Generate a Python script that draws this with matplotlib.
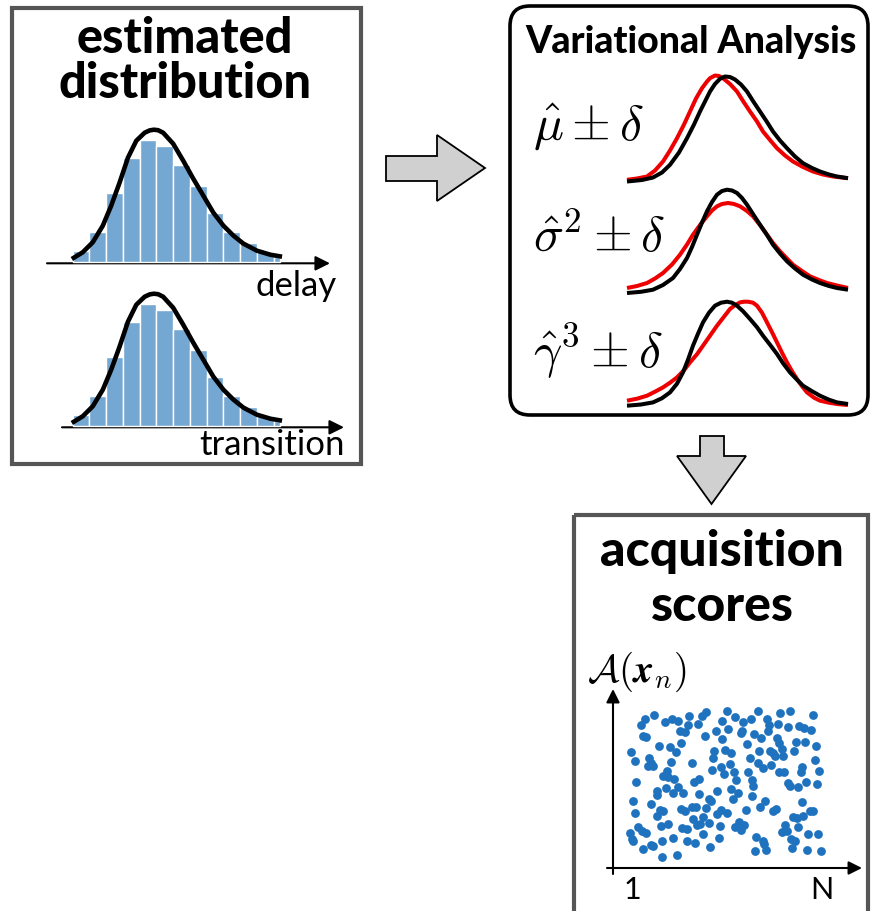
import numpy as np
import matplotlib
matplotlib.use("Agg")
import matplotlib.pyplot as plt
from matplotlib.patches import Polygon, FancyBboxPatch, Rectangle

plt.rcParams["mathtext.fontset"] = "cm"

# ---- data ----
# histogram (same shape for delay and transition)
bin_left = [0, 1, 2, 3, 4, 5, 6, 7, 8, 9, 10, 11, 12]
bin_width = [1, 1, 1, 1, 1, 1, 1, 1, 1, 1, 1, 1, 0.4]
delay_counts = [10.4, 29.4, 68.7, 103.7, 121.7, 116, 96.7, 76, 48.7, 29.4, 18.7, 9.4, 4.4]
transition_counts = [10.4, 29.4, 68.7, 103.7, 121.7, 116, 96.7, 76, 48.7, 29.4, 18.7, 9.4, 4.4]

fit_x = [-0.05, 0.6, 1.2, 1.8, 2.3, 2.8, 3.3, 3.8, 4.3, 4.6, 4.85, 5.1, 5.4, 6.0, 6.6,
         7.2, 7.8, 8.4, 9.0, 9.6, 10.2, 11.0, 11.8, 12.5]
fit_y = [2.7, 9.4, 19.4, 36, 56, 79, 104, 121, 129, 131.3, 132, 131.5, 129, 118, 101,
         83, 66, 49, 36, 26, 18, 11, 7, 5]

# variational analysis curves (x along curve, height)
mu_black_x = [0, 15, 26, 35, 43, 52, 60, 67, 73, 78, 83, 88, 93, 98, 103, 108, 114, 120,
              126, 133, 140, 146, 153, 160, 168, 176, 185, 193, 202, 210, 221]
mu_black_y = [0, 1.5, 4, 9, 16.7, 29, 43.3, 57, 70, 80, 90, 97.5, 102.7, 105, 104.5, 102,
              97, 90, 80.5, 70, 59.5, 50, 41, 33.3, 25, 18.3, 13.5, 10, 7, 5, 3.3]
mu_red_x = [0, 10, 20, 28, 36, 43, 50, 57, 63, 69, 75, 80, 83, 88, 92, 96, 103, 110, 116,
            123, 130, 136, 143, 150, 158, 166, 176, 186, 196, 206, 221]
mu_red_y = [1.7, 3, 5, 11, 20, 31, 43.3, 57, 70, 83, 93.3, 100, 103.3, 106, 105.5, 103.3,
            97.5, 90, 80.5, 70, 60, 50, 41.5, 33.3, 26, 20, 14.5, 10, 7, 5, 3.3]

sig_black_x = [0, 14, 26, 36, 46, 53, 60, 65, 70, 75, 80, 85, 90, 95, 100, 105, 110, 115,
               120, 126, 133, 140, 146, 153, 160, 168, 176, 185, 193, 202, 210, 221]
sig_black_y = [0, 1.2, 3.3, 8, 15, 24, 35, 46, 58.3, 70.5, 81.7, 91, 98.3, 102, 103.3, 102.5,
               100, 95, 88.3, 79, 68.3, 58, 48.3, 39.5, 31.7, 24.5, 18.3, 13.5, 10, 7, 5, 3.3]
sig_red_x = [0, 10, 20, 28, 36, 45, 53, 60, 66, 73, 80, 85, 90, 95, 101, 107, 113, 120, 126,
             133, 140, 146, 153, 160, 166, 175, 183, 192, 200, 210, 221]
sig_red_y = [5, 7, 10, 14.5, 20, 28.5, 38.3, 48.5, 58.3, 68, 76.7, 82.5, 86.7, 89, 90, 89,
             86.7, 82, 76.7, 68, 58.3, 50, 41.7, 34.5, 28.3, 22, 16.7, 13, 10, 7.5, 5]

gam_black_x = [0, 14, 26, 35, 43, 50, 56, 61, 66, 71, 76, 82, 88, 94, 100, 105, 110, 116,
               123, 130, 136, 143, 150, 156, 163, 170, 176, 185, 193, 202, 210, 221]
gam_black_y = [0, 1.2, 3.3, 7.5, 13.3, 22, 33.3, 46, 60, 72, 83.3, 93, 100, 103, 104, 103,
               100, 94.5, 86.7, 78.5, 70, 61, 51.7, 42.5, 33.3, 26, 20, 14.5, 10, 6, 3.3, 1.7]
gam_red_x = [0, 10, 20, 28, 36, 43, 50, 57, 63, 70, 76, 83, 90, 97, 103, 108, 113, 117,
             121, 126, 130, 135, 140, 145, 150, 155, 160, 165, 170, 175, 180, 187, 193, 202,
             210, 221]
gam_red_y = [5, 7, 10, 14, 18.3, 23, 28.3, 35.5, 43.3, 51.5, 60, 70, 80, 89, 96.7, 100.5,
             103.3, 104, 104, 103, 100, 93, 83.3, 73.5, 63.3, 53, 43.3, 34.5, 26.7, 19.5,
             13.3, 8, 5, 3, 1.7, 0.7]

# acquisition scores (index, score)
score_idx = [34.3, 25, 21, 45, 51.7, 57.7, 69.3, 68.3, 77.7, 81.7, 85.7, 60, 65, 23.3, 26,
             84.7, 96, 102.3, 101.7, 39.3, 50, 55.7, 60.7, 10.7, 14.7, 29.3, 28.3, 32.7, 31,
             51, 71.7, 94, 93.3, 101, 92.3, 104, 46.7, 43.3, 48.3, 54, 16, 74, 79.3, 58.3,
             46, 53.3, 63.3, 36.7, 37.3, 78.7, 97, 13.3, 30.7, 40, 36.7, 42.7, 15, 61, 65,
             71.7, 76, 88.7, 90.7, 86, 96.7, 101, 73.3, 83.3, 80, 77.3, 88.7, 100, 18.3, 21.7,
             26, 10, 11.7, 12.7, 40.7, 48.3, 61.7, 66.7, 82.7, 53.3, 41.7, 66.7, 31, 33.3,
             22.7, 75, 90, 99, 42.3, 56.7,
             107.3, 138.3, 160, 170, 193.3, 115, 123.3, 130.7, 146.7, 149.3, 158.3, 168.3,
             179.3, 184, 190.7, 108.3, 121.7, 120.7, 134.3, 147.7, 140.7, 156.7, 159.3, 161.7,
             176, 185, 196, 127.3, 105, 111, 139.3, 150, 153.3, 155, 163.3, 174, 195.3, 130,
             137.7, 142.7, 150.7, 110, 114, 128.3, 159.3, 164.3, 181.7, 180.7, 199.3, 116,
             131.7, 133.3, 168.3, 170, 177.7, 186, 197.3, 111, 117.7, 132.3, 112.7, 145, 140,
             156, 153.3, 182.3, 106.7, 126, 190, 192.7, 172.7, 176.7, 183.3, 165, 119.3, 124,
             115, 120.7, 178.3, 161.7, 166.7, 188.3, 197.7, 136, 143.3, 144.3, 146, 170.7,
             175, 171.7, 187.3, 200.7, 135]
score_val = [154, 150, 144.3, 146.7, 150, 148.3, 152.7, 144.3, 145, 153.3, 156.7, 138.3, 136.7,
             133.3, 132.3, 133.3, 138.3, 130, 148.3, 123, 122.3, 117.3, 126, 116.7, 108.3, 111,
             103.3, 103, 105.7, 106.7, 105.7, 118.3, 111, 101.7, 99.3, 95, 98.3, 93.3, 92.3, 90,
             87.3, 86.7, 90, 82.3, 80.7, 75.7, 75.7, 77.7, 74.3, 75, 77.7, 68.3, 65, 59, 53.3,
             57.7, 56, 60, 57.7, 61.7, 62.3, 70, 67.7, 61, 55, 59, 50, 52.3, 45, 44.3, 46, 43,
             41.7, 38.3, 35.7, 36, 30, 28.3, 43.3, 45, 41, 40, 35, 31, 28.3, 28.3, 24.3, 22.7,
             20, 25.7, 21.7, 31, 12.3, 14.3,
             157.7, 158.3, 156, 157.7, 154.3, 151.7, 146.7, 150, 150, 144.3, 145, 142.3, 143.3,
             141, 139, 140, 138.3, 135.7, 135, 138.3, 130.7, 130.7, 125.7, 120, 127.3, 126.7,
             123.3, 125, 119, 115.7, 118.3, 118.3, 115.7, 113.3, 113.3, 118.3, 109, 111, 105.7,
             100.7, 104, 105, 96.7, 97.3, 96.7, 97.3, 101.7, 96.7, 98.3, 89, 89, 83.3, 85.7,
             83.3, 81.7, 86.7, 85, 80, 75.7, 73, 70, 67.7, 61.7, 60, 57.7, 66.7, 55.7, 59.3,
             58.3, 58.3, 51.7, 50.7, 53.3, 44.3, 46.7, 44, 41.7, 39, 41.7, 36.7, 37.7, 35, 35,
             31.7, 27.7, 25, 19.3, 30, 28.3, 21, 19.3, 18.3, 17.7]

W, H = 871, 912
fig = plt.figure(figsize=(W / 100, H / 100), dpi=100)

bg = fig.add_axes([0, 0, 1, 1])
bg.set_xlim(0, W)
bg.set_ylim(H, 0)
bg.axis("off")


def inset(x0, y0, x1, y1):
    a = fig.add_axes([x0 / W, 1 - y1 / H, (x1 - x0) / W, (y1 - y0) / H])
    a.set_facecolor("none")
    a.axis("off")
    return a


title_font = dict(family=["Lato", "DejaVu Sans"], weight="black", color="black")
label_font = dict(family=["Lato", "DejaVu Sans"], color="black")

# ---- left box: estimated distribution ----
bg.add_patch(Rectangle((12, 8.5), 348.5, 456.5, fill=False, ec="#555555", lw=3))
bg.text(185, 53, "estimated", ha="center", va="baseline", fontsize=35, **title_font)
bg.text(185, 98, "distribution", ha="center", va="baseline", fontsize=35, **title_font)

for counts, y_base, arr_x0, arr_x1, name, name_x, name_y in [
    (delay_counts, 262.7, 47, 330, "delay", 337, 296),
    (transition_counts, 426.7, 62, 344, "transition", 345, 455),
]:
    ah = inset(40, y_base - 142.7, 340, y_base + 7.3)
    ah.bar(bin_left, counts, width=bin_width, align="edge", color="#75a7d3",
           edgecolor="white", lw=1.0)
    ah.plot(fit_x, fit_y, color="black", lw=3.3, solid_capstyle="butt", solid_joinstyle="round")
    ah.set_xlim(-1.95, 15.96)
    ah.set_ylim(-7.3, 142.7)
    bg.annotate("", xy=(arr_x1, y_base + 1.6), xytext=(arr_x0, y_base + 1.6),
                arrowprops=dict(arrowstyle="-|>", lw=1.5, color="black", mutation_scale=22,
                                shrinkA=0, shrinkB=0))
    bg.text(name_x, name_y, name, ha="right", va="baseline", fontsize=25, **label_font)

# ---- arrows between panels ----
bg.add_patch(Polygon([(386, 157), (437, 157), (437, 136), (485, 169), (437, 202),
                      (437, 182), (386, 182)], closed=True, fc="#d0d0d0", ec="black", lw=1.3))
bg.add_patch(Polygon([(700, 437), (724, 437), (724, 457), (746, 457), (711.5, 505),
                      (677, 457), (700, 457)], closed=True, fc="#d0d0d0", ec="black", lw=1.3))

# ---- variational analysis box ----
bg.add_patch(FancyBboxPatch((510, 7), 358, 409, boxstyle="round,pad=0,rounding_size=20",
                            fill=False, ec="black", lw=2.6))
bg.text(691, 53, "Variational Analysis", ha="center", va="baseline", fontsize=27, **title_font)

rows = [
    (r"$\hat{\mu} \pm \delta$", 182.5, mu_black_x, mu_black_y, mu_red_x, mu_red_y),
    (r"$\hat{\sigma}^2 \pm \delta$", 294, sig_black_x, sig_black_y, sig_red_x, sig_red_y),
    (r"$\hat{\gamma}^3 \pm \delta$", 406.7, gam_black_x, gam_black_y, gam_red_x, gam_red_y),
]
for lab, y_base, bx, by, rx, ry in rows:
    av = inset(620, y_base - 120, 860, y_base + 5)
    av.plot(rx, ry, color="#ee0000", lw=2.9, solid_capstyle="butt", solid_joinstyle="round")
    av.plot(bx, by, color="black", lw=2.9, solid_capstyle="butt", solid_joinstyle="round")
    av.set_xlim(-7, 233)
    av.set_ylim(-5, 120)
    bg.text(533, y_base - 56, lab, ha="left", va="center", fontsize=36)

# ---- acquisition scores box ----
bg.add_patch(Rectangle((574, 516), 294, 420, fill=False, ec="#555555", lw=3, clip_on=False))
bg.text(722, 566, "acquisition", ha="center", va="baseline", fontsize=36, **title_font)
bg.text(722, 621, "scores", ha="center", va="baseline", fontsize=36, **title_font)

asc = inset(600, 680, 870, 880)
asc.scatter(score_idx, score_val, s=40, color="#1f72be", linewidths=0)
asc.set_xlim(-20, 250)
asc.set_ylim(-10, 190)

bg.annotate("", xy=(613, 690), xytext=(613, 875),
            arrowprops=dict(arrowstyle="-|>", lw=1.5, color="black", mutation_scale=20,
                            shrinkA=0, shrinkB=0))
bg.annotate("", xy=(862, 869), xytext=(607, 869),
            arrowprops=dict(arrowstyle="-|>", lw=1.5, color="black", mutation_scale=20,
                            shrinkA=0, shrinkB=0))
bg.text(637, 672, r"$\mathcal{A}(\mathbfit{x}_n)$", ha="center", va="center", fontsize=28)
bg.text(632, 890, "1", ha="center", va="center", fontsize=22, **label_font)
bg.text(822, 890, "N", ha="center", va="center", fontsize=22, **label_font)

fig.savefig("out.png", dpi=100, facecolor="white")
